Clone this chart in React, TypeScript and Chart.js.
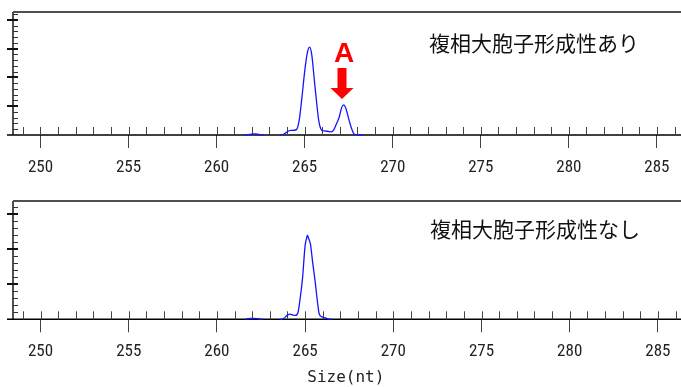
import React, { useEffect, useRef } from "react";
import { Chart, registerables } from "chart.js";

Chart.register(...registerables);

// ---- data ----
const X_MIN = 248.44;
const X_MAX = 286.17;
const X_MAJOR_STEP = 5;

const TOP_SIZE = [261.6, 261.9, 262.2, 262.5, 262.7, 263.0, 263.6, 263.8, 264.0, 264.2, 264.4, 264.55, 264.7, 264.85, 265.0, 265.15, 265.28, 265.4, 265.55, 265.65, 265.8, 265.95, 266.1, 266.3, 266.5, 266.65, 266.8, 266.95, 267.1, 267.22, 267.35, 267.5, 267.65, 267.8, 267.95, 268.3];
const TOP_SIGNAL = [0, 20, 38, 15, 0, null, 0, 25, 110, 160, 165, 200, 550, 1330, 2200, 2850, 3050, 2800, 1900, 1300, 500, 180, 140, 130, 110, 180, 380, 600, 950, 1043, 900, 560, 250, 40, 10, 0];
const TOP_Y_MAX = 4270;

const BOTTOM_SIZE = [261.6, 261.9, 262.1, 262.4, 262.6, 263.0, 263.6, 263.8, 264.0, 264.15, 264.3, 264.45, 264.6, 264.72, 264.85, 265.0, 265.08, 265.13, 265.2, 265.3, 265.42, 265.57, 265.7, 265.8, 265.95, 266.1, 266.3, 266.5];
const BOTTOM_SIGNAL = [0, 25, 28, 8, 0, null, 0, 30, 120, 145, 120, 110, 200, 600, 1150, 2100, 2300, 2400, 2300, 2150, 1650, 1071, 500, 150, 70, 50, 15, 0];
const BOTTOM_Y_MAX = 3370;

const Y_MAJOR_STEP = 1000;
const Y_MINOR_STEP = 200;

const TOP_LABEL = "複相大胞子形成性あり";
const BOTTOM_LABEL = "複相大胞子形成性なし";
const AXIS_TITLE = "Size(nt)";
const ARROW_TEXT = "A";
const ARROW_SIZE = 267.12;
const ARROW_SIGNAL = 1043;

const TICK_FONT = "'Liberation Sans Narrow', 'Roboto Condensed', 'Arial Narrow', 'Liberation Sans', sans-serif";
const CJK_FONT = "'Noto Sans CJK JP', 'Noto Sans CJK SC', sans-serif";

type PanelOpts = {
  label: string;
  labelX: number;
  labelY: number;
  arrow?: { x: number; y: number; text: string };
};

function panelPlugin(opts: PanelOpts) {
  return {
    id: "panelDecor",
    beforeDatasetsDraw(chart: any) {
      const ctx = chart.ctx as CanvasRenderingContext2D;
      const { left, top, bottom } = chart.chartArea;
      const xs = chart.scales.x;
      const ys = chart.scales.y;
      const W = chart.width;
      ctx.save();
      ctx.strokeStyle = "#505050";
      ctx.lineWidth = 2;
      ctx.beginPath();
      ctx.moveTo(left, top);
      ctx.lineTo(W, top);
      ctx.stroke();
      ctx.beginPath();
      ctx.moveTo(left, top);
      ctx.lineTo(left, bottom);
      ctx.stroke();
      ctx.strokeStyle = "#333";
      ctx.lineWidth = 1;
      for (let v = Y_MINOR_STEP; v <= ys.max; v += Y_MINOR_STEP) {
        const py = Math.round(ys.getPixelForValue(v)) + 0.5;
        ctx.beginPath();
        ctx.moveTo(left, py);
        ctx.lineTo(left + 5, py);
        ctx.stroke();
      }
      ctx.strokeStyle = "#111";
      ctx.lineWidth = 2;
      for (let v = Y_MAJOR_STEP; v <= ys.max; v += Y_MAJOR_STEP) {
        const py = Math.round(ys.getPixelForValue(v));
        ctx.beginPath();
        ctx.moveTo(left - 6, py);
        ctx.lineTo(left + 5, py);
        ctx.stroke();
      }
      ctx.strokeStyle = "#000";
      ctx.lineWidth = 1.6;
      ctx.beginPath();
      ctx.moveTo(left - 6, bottom);
      ctx.lineTo(W, bottom);
      ctx.stroke();
      ctx.strokeStyle = "#444";
      ctx.lineWidth = 1;
      for (let v = Math.ceil(xs.min); v <= xs.max; v += 1) {
        const px = Math.round(xs.getPixelForValue(v)) + 0.5;
        ctx.beginPath();
        ctx.moveTo(px, bottom - 8);
        ctx.lineTo(px, bottom);
        ctx.stroke();
      }
      ctx.restore();
    },
    afterDatasetsDraw(chart: any) {
      const ctx = chart.ctx as CanvasRenderingContext2D;
      const xs = chart.scales.x;
      const ys = chart.scales.y;
      ctx.save();
      ctx.fillStyle = "#111";
      ctx.font = `21px ${CJK_FONT}`;
      ctx.textAlign = "left";
      ctx.textBaseline = "middle";
      ctx.fillText(opts.label, opts.labelX, opts.labelY);
      if (opts.arrow) {
        const ax = xs.getPixelForValue(opts.arrow.x);
        const tipY = ys.getPixelForValue(opts.arrow.y) - 6;
        ctx.fillStyle = "#ff0000";
        ctx.beginPath();
        ctx.moveTo(ax - 4.5, tipY - 31);
        ctx.lineTo(ax + 4.5, tipY - 31);
        ctx.lineTo(ax + 4.5, tipY - 11);
        ctx.lineTo(ax + 11.5, tipY - 11);
        ctx.lineTo(ax, tipY);
        ctx.lineTo(ax - 11.5, tipY - 11);
        ctx.lineTo(ax - 4.5, tipY - 11);
        ctx.closePath();
        ctx.fill();
        ctx.font = "bold 28px 'Liberation Sans', Arial, sans-serif";
        ctx.textAlign = "center";
        ctx.textBaseline = "middle";
        ctx.fillText(opts.arrow.text, ax + 2, tipY - 45);
      }
      ctx.restore();
    },
  };
}

function makeConfig(
  sizes: number[],
  signal: (number | null)[],
  yMax: number,
  padTop: number,
  padBottom: number,
  tickPad: number,
  withTitle: boolean,
  decor: PanelOpts
): any {
  return {
    type: "line",
    data: {
      datasets: [
        {
          data: sizes.map((x, i) => ({ x, y: signal[i] })),
          borderColor: "#1414ff",
          borderWidth: 1.3,
          pointRadius: 0,
          fill: false,
          spanGaps: false,
          cubicInterpolationMode: "monotone",
          clip: 6,
        },
      ],
    },
    options: {
      animation: false,
      responsive: false,
      events: [],
      layout: { padding: { left: 13, right: 0, top: padTop, bottom: padBottom } },
      plugins: { legend: { display: false }, tooltip: { enabled: false } },
      scales: {
        x: {
          type: "linear",
          min: X_MIN,
          max: X_MAX,
          border: { display: false },
          grid: {
            display: true,
            drawOnChartArea: false,
            drawTicks: true,
            tickLength: 13,
            color: "#444",
            lineWidth: 1,
          },
          ticks: {
            stepSize: X_MAJOR_STEP,
            includeBounds: false,
            autoSkip: false,
            maxRotation: 0,
            padding: tickPad,
            color: "#222",
            font: { family: TICK_FONT, size: 17, lineHeight: 1 },
          },
          title: {
            display: withTitle,
            text: AXIS_TITLE,
            color: "#222",
            font: { family: "'DejaVu Sans Mono', 'Liberation Mono', monospace", size: 16, lineHeight: 1 },
            padding: { top: 0, bottom: 0.7 },
          },
        },
        y: { display: false, min: 0, max: yMax },
      },
    },
    plugins: [panelPlugin(decor)],
  };
}

export default function App() {
  const topRef = useRef<HTMLCanvasElement>(null);
  const botRef = useRef<HTMLCanvasElement>(null);

  useEffect(() => {
    const c1 = new Chart(
      topRef.current as HTMLCanvasElement,
      makeConfig(TOP_SIZE, TOP_SIGNAL, TOP_Y_MAX, 12, 2, 11.5, false, {
        label: TOP_LABEL,
        labelX: 429,
        labelY: 43,
        arrow: { x: ARROW_SIZE, y: ARROW_SIGNAL, text: ARROW_TEXT },
      })
    );
    const c2 = new Chart(
      botRef.current as HTMLCanvasElement,
      makeConfig(BOTTOM_SIZE, BOTTOM_SIGNAL, BOTTOM_Y_MAX, 11, 0, 10.5, true, {
        label: BOTTOM_LABEL,
        labelX: 430,
        labelY: 39,
      })
    );
    return () => {
      c1.destroy();
      c2.destroy();
    };
  }, []);

  return (
    <div style={{ position: "absolute", left: 0, top: 0, width: 681, height: 387, background: "#fff" }}>
      <canvas ref={topRef} width={681} height={190} style={{ position: "absolute", left: 0, top: 0 }} />
      <canvas ref={botRef} width={681} height={197} style={{ position: "absolute", left: 0, top: 190 }} />
    </div>
  );
}
